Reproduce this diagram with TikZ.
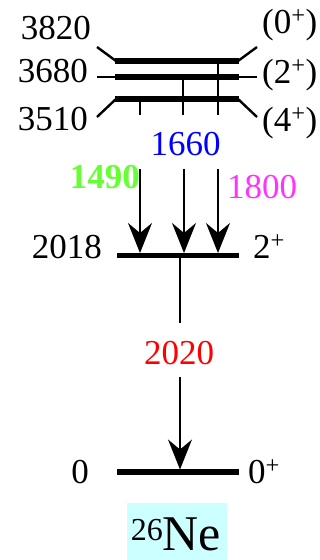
\documentclass[tikz,border=0pt]{standalone}
\usepackage{fontspec}
\setmainfont{Liberation Serif}
\usetikzlibrary{arrows.meta}
\definecolor{cgreen}{RGB}{102,255,51}
\definecolor{cmag}{RGB}{255,51,255}
\definecolor{cblue}{RGB}{0,0,255}
\definecolor{cred}{RGB}{255,0,0}
\definecolor{ccyan}{RGB}{204,255,255}
\begin{document}
\begin{tikzpicture}[x=1pt,y=-1pt,
  lvl/.style={line width=5.5pt},
  thinline/.style={line width=2.4pt},
  tick/.style={line width=2pt},
  arr/.style={line width=2pt,-{Stealth[length=30pt,width=24pt,inset=10pt]}},
  lab/.style={font=\fontsize{35}{40}\selectfont, inner sep=0pt}]
\useasboundingbox (0,0) rectangle (320,560);
% upper levels
\draw[lvl] (115,61) -- (239,61);
\draw[thinline] (97,47) -- (116,61);
\draw[thinline] (238,61) -- (257,47);
\draw[lvl] (115,77) -- (239,77);
\draw[thinline] (97,77) -- (116,77);
\draw[thinline] (238,77) -- (257,77);
\draw[lvl] (115,99) -- (239,99);
\draw[thinline] (97,117) -- (116,99);
\draw[thinline] (238,99) -- (257,117);
% ticks
\draw[tick] (140,99) -- (140,115);
\draw[tick] (183,77) -- (183,115);
\draw[tick] (218,61) -- (218,115);
% 2018 level
\draw[lvl] (117,255.5) -- (239,255.5);
% ground
\draw[lvl] (117,472) -- (239,472);
% arrows
\coordinate (a1) at (140,169); \coordinate (b1) at (140,253);
\coordinate (a2) at (184,169); \coordinate (b2) at (184,253);
\coordinate (a3) at (218,169); \coordinate (b3) at (218,253);
\draw[arr] (a1) -- (b1);
\draw[arr] (a2) -- (b2);
\draw[arr] (a3) -- (b3);
\node[lab, text=cred, anchor=base] (g2020) at (179,364) {2020};
\coordinate (lv) at (180,258);
\coordinate (gd) at (180,469.5);
\draw[tick] (lv) -- (180,323);
\draw[arr] (180,377) -- (gd);
% labels
\node[lab, anchor=base east] (l3820) at (91,39) {3820};
\node[lab, anchor=base east] (l3680) at (88,82) {3680};
\node[lab, anchor=base east] (l3510) at (88,130) {3510};
\node[lab, anchor=base west] (s0) at (262,33) {(0\textsuperscript{+})};
\node[lab, anchor=base west] (s2) at (262,83) {(2\textsuperscript{+})};
\node[lab, anchor=base west] (s4) at (262,131) {(4\textsuperscript{+})};
\node[lab, anchor=base east] (l2018) at (102,258) {2018};
\node[lab, anchor=base west] (s2b) at (253,258) {2\textsuperscript{+}};
\node[lab, anchor=base east] (l0) at (89,483) {0};
\node[lab, anchor=base west] (s0b) at (248,483) {0\textsuperscript{+}};
\node[lab, text=cblue, anchor=base] (g1660) at (185.5,155) {1660};
\node[lab, text=cgreen, anchor=base east, font=\fontsize{35}{40}\selectfont\bfseries] (g1490) at (140,188) {1490};
\node[lab, text=cmag, anchor=base west] (g1800) at (227,198) {1800};
% nucleus
\node[fill=ccyan, minimum width=100pt, minimum height=57pt, inner sep=0pt] (box) at (177,531.5) {};
\node[inner sep=0pt, anchor=base] (ne) at (176,550) {\raisebox{10pt}{\fontsize{32}{32}\selectfont 26}\fontsize{50}{50}\selectfont Ne};
\end{tikzpicture}
\end{document}
